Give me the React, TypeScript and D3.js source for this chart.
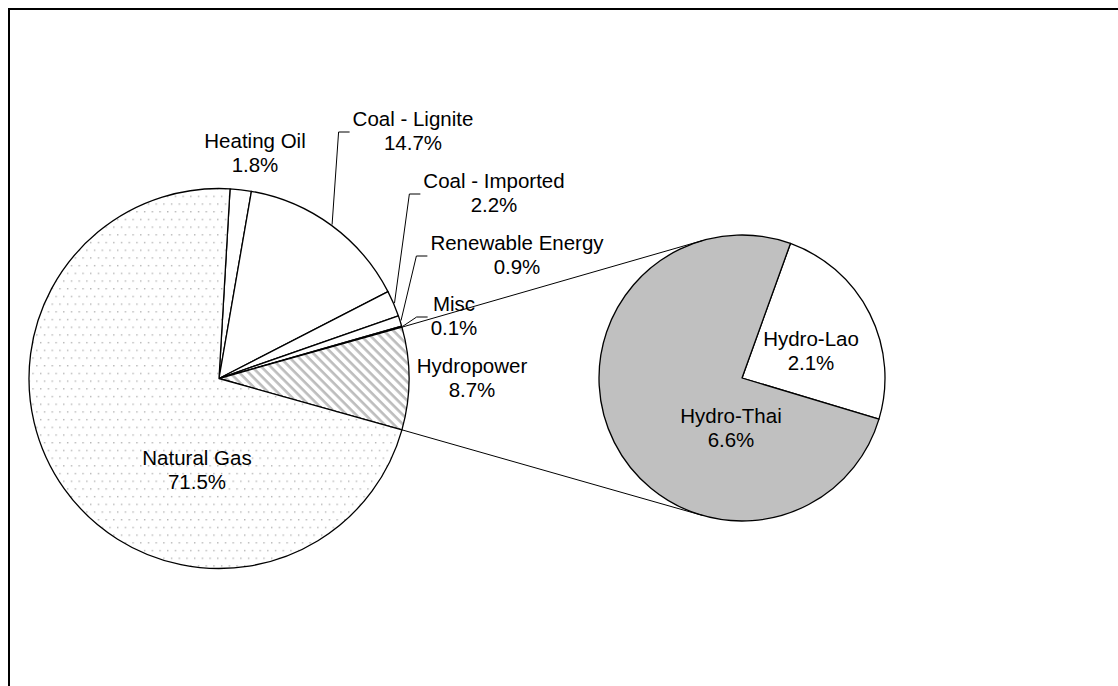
import React from "react";
import * as d3 from "d3";

// ---- data ----
const mainLabels = ["Heating Oil", "Coal - Lignite", "Coal - Imported", "Renewable Energy", "Misc", "Hydropower", "Natural Gas"];
const mainValues = [1.8, 14.7, 2.2, 0.9, 0.1, 8.7, 71.5];
const subLabels = ["Hydro-Lao", "Hydro-Thai"];
const subValues = [2.1, 6.6];
const splitCategory = "Hydropower";

// ---- layout ----
const W = 1118;
const H = 686;
const MAIN = { cx: 219, cy: 378.5, r: 190 };
const SUB = { cx: 742, cy: 378, r: 143 };
const SUB_START_DEG = 19.8;
const FONT = "'Liberation Sans', Arial, sans-serif";
const FS = 20.5;
const LINE = 24;

// label placement (center x, first-line baseline), leader flag
const labelLayout: Record<string, { x: number; y: number; leader: boolean }> = {
  "Heating Oil": { x: 255, y: 148, leader: false },
  "Coal - Lignite": { x: 413, y: 126, leader: true },
  "Coal - Imported": { x: 494, y: 188, leader: true },
  "Renewable Energy": { x: 517, y: 250, leader: true },
  "Misc": { x: 454, y: 311, leader: true },
  "Hydropower": { x: 472, y: 373, leader: false },
  "Natural Gas": { x: 197, y: 465, leader: false },
  "Hydro-Lao": { x: 811, y: 346, leader: false },
  "Hydro-Thai": { x: 731, y: 423, leader: false },
};

const fillFor = (name: string) => {
  if (name === "Natural Gas") return "url(#dots)";
  if (name === "Hydropower") return "url(#stripes)";
  if (name === "Hydro-Thai") return "#c0c0c0";
  return "#ffffff";
};

const fmt = (v: number) => d3.format(".1f")(v) + "%";

function textWidth(s: string) {
  const canvas = typeof document !== "undefined" ? document.createElement("canvas") : null;
  const ctx = canvas ? canvas.getContext("2d") : null;
  if (ctx) {
    ctx.font = `${FS}px 'Liberation Sans', Arial, sans-serif`;
    return ctx.measureText(s).width;
  }
  return s.length * FS * 0.55;
}

export default function App() {
  const total = d3.sum(mainValues);
  const splitIdx = mainLabels.indexOf(splitCategory);
  const before = d3.sum(mainValues.slice(0, splitIdx));
  const midFrac = (before + mainValues[splitIdx] / 2) / total;
  const start = Math.PI / 2 - midFrac * 2 * Math.PI;

  const mainPie = d3
    .pie<number>()
    .sort(null)
    .value((d) => d)
    .startAngle(start)
    .endAngle(start + 2 * Math.PI);
  const mainArcs = mainPie(mainValues);
  const mainArc = d3.arc<d3.PieArcDatum<number>>().innerRadius(0).outerRadius(MAIN.r);

  const subStart = (SUB_START_DEG * Math.PI) / 180;
  const subPie = d3
    .pie<number>()
    .sort(null)
    .value((d) => d)
    .startAngle(subStart)
    .endAngle(subStart + 2 * Math.PI);
  const subArcs = subPie(subValues);
  const subArc = d3.arc<d3.PieArcDatum<number>>().innerRadius(0).outerRadius(SUB.r);

  const polar = (c: { cx: number; cy: number }, r: number, a: number) => [c.cx + r * Math.sin(a), c.cy - r * Math.cos(a)];

  const split = mainArcs[splitIdx];
  const tangent = (p: number[], upper: boolean) => {
    const dx = p[0] - SUB.cx;
    const dy = p[1] - SUB.cy;
    const d = Math.hypot(dx, dy);
    const theta = Math.atan2(dx, -dy);
    const phi = Math.acos(SUB.r / d);
    const p1 = polar(SUB, SUB.r, theta + phi);
    const p2 = polar(SUB, SUB.r, theta - phi);
    return upper ? (p1[1] < p2[1] ? p1 : p2) : p1[1] > p2[1] ? p1 : p2;
  };
  const pTop = polar(MAIN, MAIN.r, split.startAngle);
  const pBot = polar(MAIN, MAIN.r, split.endAngle);
  const tTop = tangent(pTop, true);
  const tBot = tangent(pBot, false);

  const labels: JSX.Element[] = [];
  const leaders: JSX.Element[] = [];

  const addLabel = (name: string, value: number, arcD: d3.PieArcDatum<number>, c: typeof MAIN) => {
    const L = labelLayout[name];
    labels.push(
      <text key={"t" + name} fontFamily={FONT} fontSize={FS} fill="#000" textAnchor="middle">
        <tspan x={L.x} y={L.y}>{name}</tspan>
        <tspan x={L.x} y={L.y + LINE}>{fmt(value)}</tspan>
      </text>
    );
    if (L.leader) {
      const mid = (arcD.startAngle + arcD.endAngle) / 2;
      const s = polar(c, c.r + 1, mid);
      const w = Math.max(textWidth(name), textWidth(fmt(value)));
      const endX = L.x - w / 2 - 3;
      const ey = L.y + 6;
      const elbowX = endX - 11;
      leaders.push(
        <polyline
          key={"l" + name}
          points={`${s[0]},${s[1]} ${elbowX},${ey} ${endX},${ey}`}
          fill="none"
          stroke="#000"
          strokeWidth={1}
        />
      );
    }
  };

  mainArcs.forEach((a, i) => addLabel(mainLabels[i], mainValues[i], a, MAIN));
  subArcs.forEach((a, i) => addLabel(subLabels[i], subValues[i], a, SUB));

  return (
    <>
      <style>{`body{margin:0;overflow:hidden;background:#fff}`}</style>
      <svg width={W} height={H} style={{ display: "block" }}>
        <defs>
          <pattern id="dots" patternUnits="userSpaceOnUse" width={15.4} height={15.4}>
            <rect width={15.4} height={15.4} fill="#fff" />
            <rect x={2} y={2} width={1.3} height={1.3} fill="#a8a8a8" />
            <rect x={9.7} y={2} width={1.3} height={1.3} fill="#a8a8a8" />
            <rect x={5.85} y={9.7} width={1.3} height={1.3} fill="#a8a8a8" />
            <rect x={13.55} y={9.7} width={1.3} height={1.3} fill="#a8a8a8" />
          </pattern>
          <pattern id="stripes" patternUnits="userSpaceOnUse" width={6.6} height={6.6} patternTransform="rotate(45)">
            <rect width={6.6} height={6.6} fill="#fff" />
            <rect width={6.6} height={2.6} fill="#bdbdbd" />
          </pattern>
        </defs>
        <rect x={9} y={9} width={1300} height={900} fill="#fff" stroke="#000" strokeWidth={2} />

        <g transform={`translate(${MAIN.cx},${MAIN.cy})`}>
          {mainArcs.map((a, i) => (
            <path key={mainLabels[i]} d={mainArc(a) || ""} fill={fillFor(mainLabels[i])} stroke="#000" strokeWidth={1.3} strokeLinejoin="round" />
          ))}
        </g>
        <g transform={`translate(${SUB.cx},${SUB.cy})`}>
          {subArcs.map((a, i) => (
            <path key={subLabels[i]} d={subArc(a) || ""} fill={fillFor(subLabels[i])} stroke="#000" strokeWidth={1.3} strokeLinejoin="round" />
          ))}
        </g>

        <line x1={pTop[0]} y1={pTop[1]} x2={tTop[0]} y2={tTop[1]} stroke="#000" strokeWidth={1} />
        <line x1={pBot[0]} y1={pBot[1]} x2={tBot[0]} y2={tBot[1]} stroke="#000" strokeWidth={1} />

        {leaders}
        {labels}
      </svg>
    </>
  );
}
